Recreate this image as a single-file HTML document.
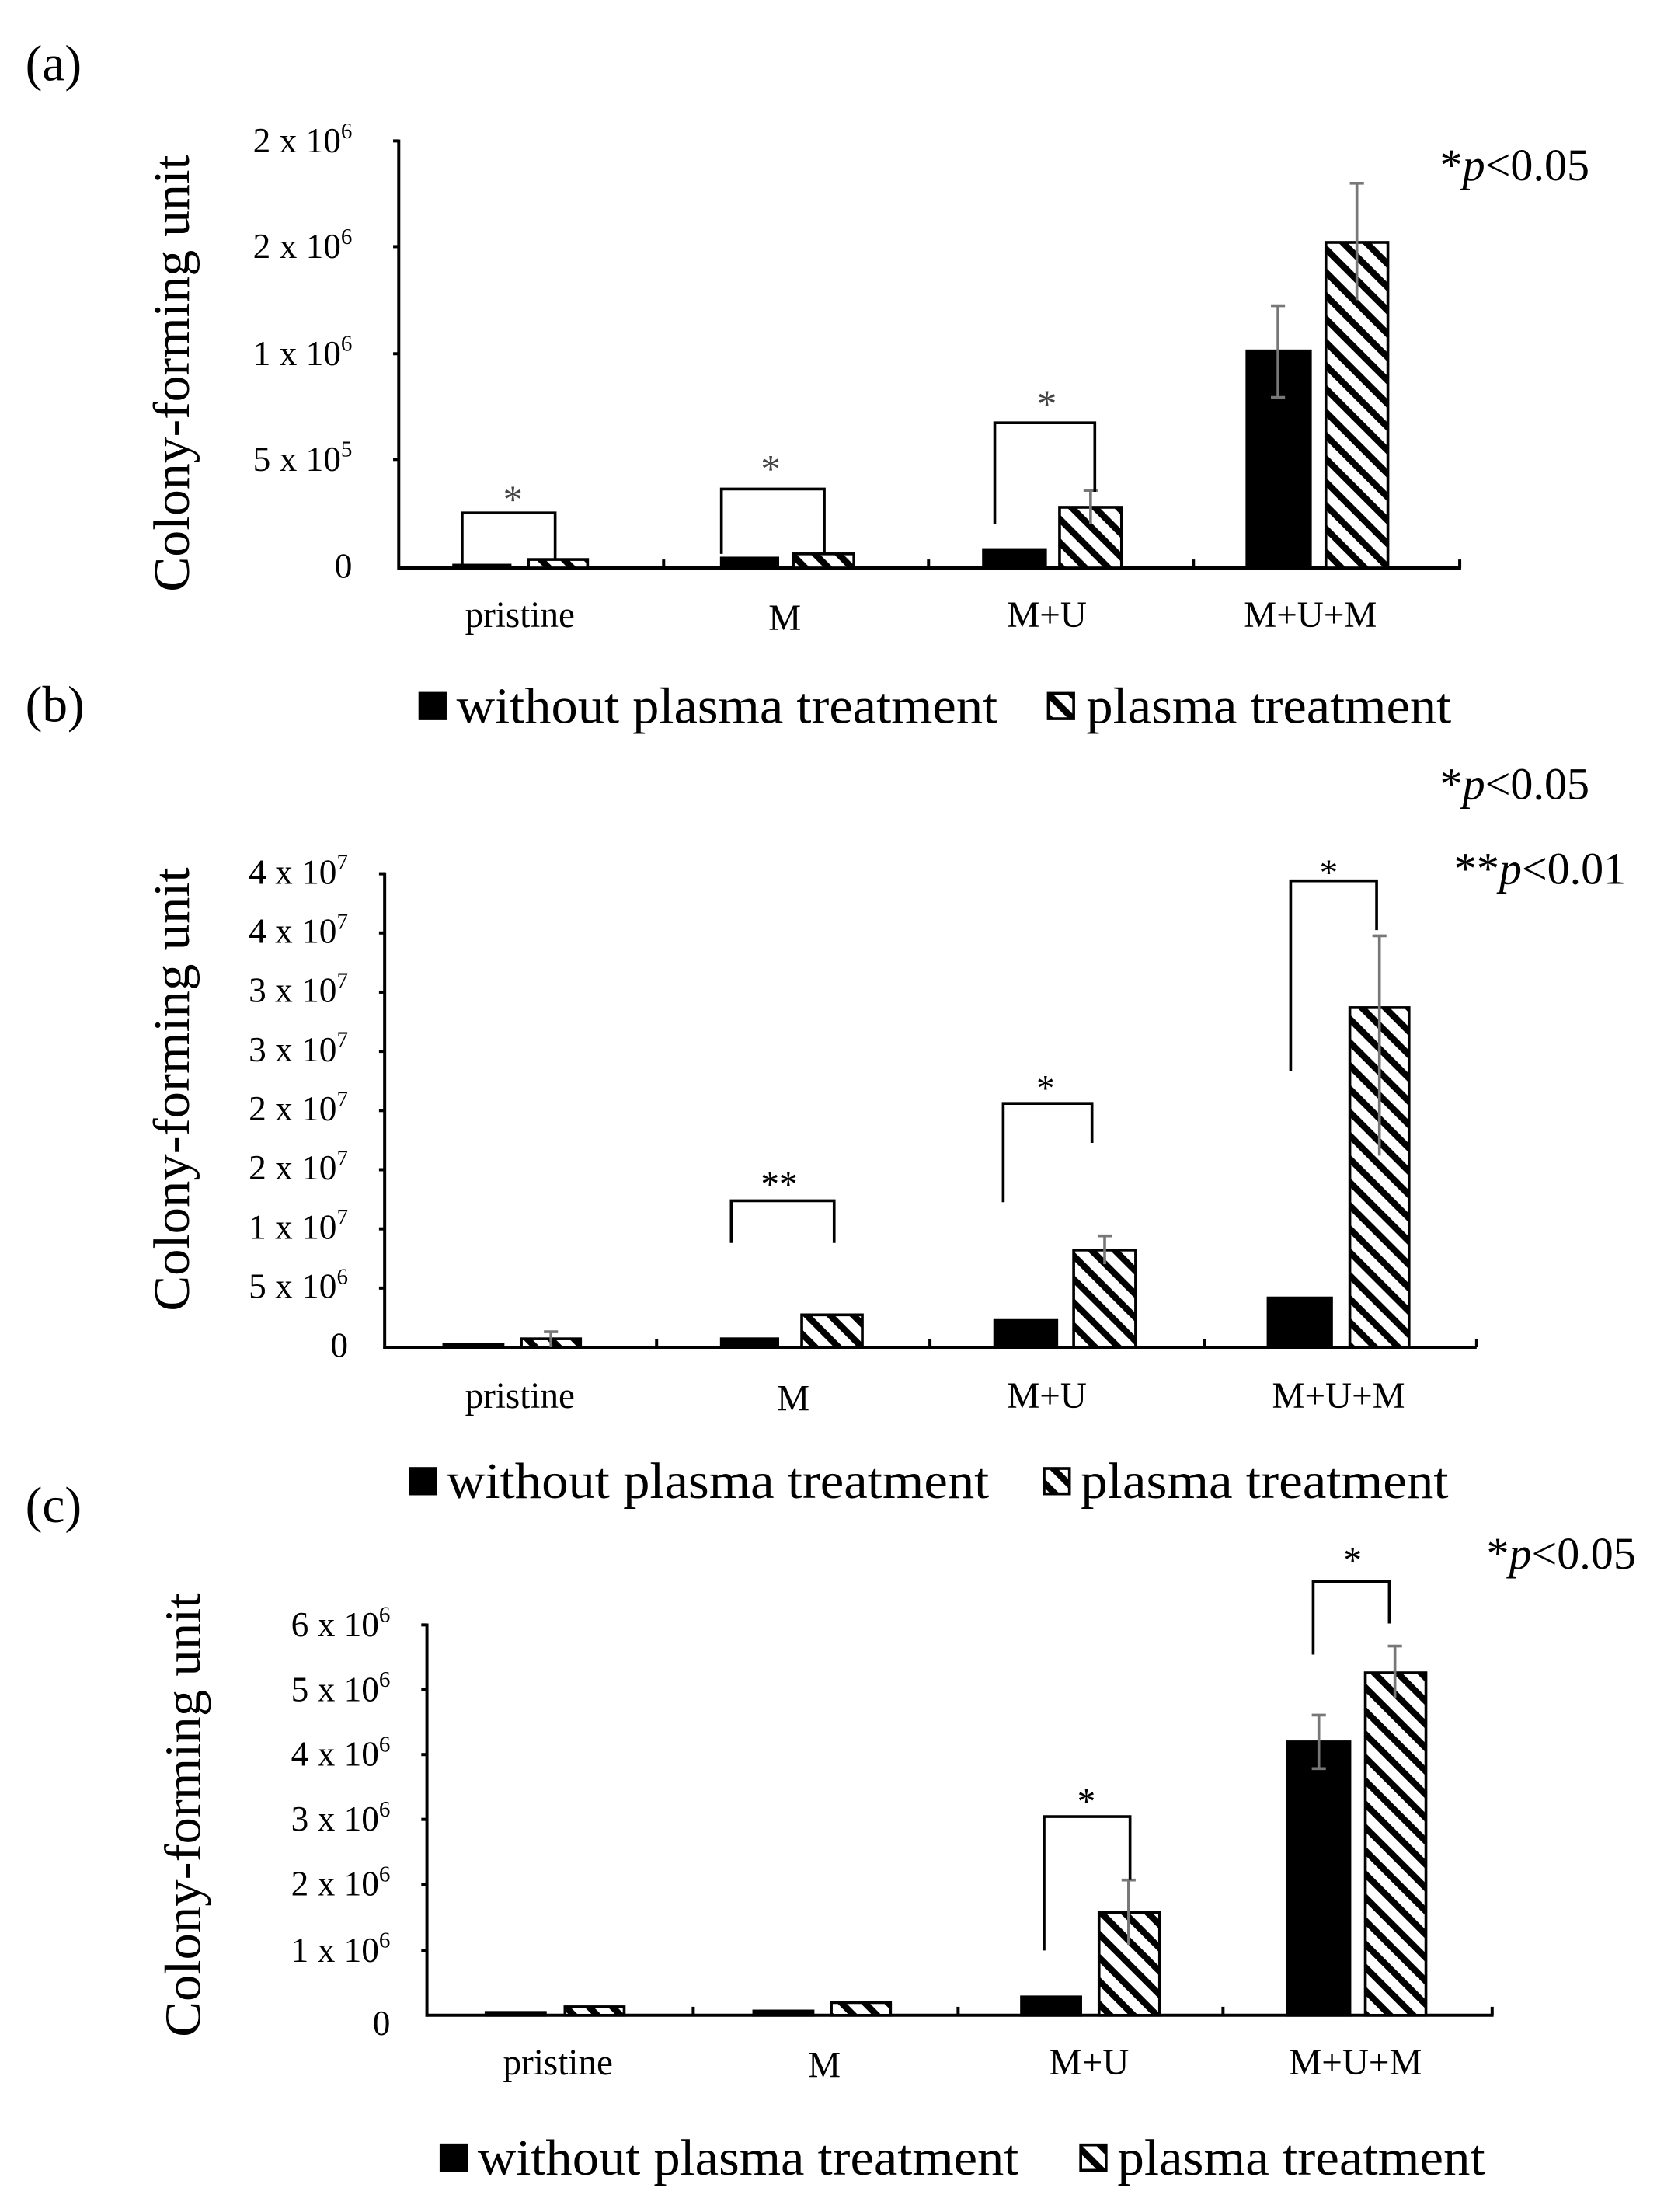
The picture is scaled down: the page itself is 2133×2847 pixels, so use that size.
<!DOCTYPE html>
<html><head><meta charset="utf-8"><style>html,body{margin:0;padding:0;background:#fff}svg{display:block}</style></head><body>
<svg width="2133" height="2847" viewBox="0 0 1176 1569.6" preserveAspectRatio="none" xmlns="http://www.w3.org/2000/svg" font-family="Liberation Serif, serif">
<defs>
<pattern id="h" width="11.7" height="11.7" patternUnits="userSpaceOnUse" patternTransform="rotate(-45)">
<rect x="0" y="0" width="11.7" height="11.7" fill="#fff"/><rect x="0" y="0" width="4.6" height="11.7" fill="#000"/>
</pattern>
</defs>
<rect width="1176" height="1570" fill="#fff"/>
<g font-size="36"><text x="18" y="57">(a)</text><text x="18" y="512">(b)</text><text x="18" y="1080">(c)</text></g>

<!-- Panel A -->
<g>
<text transform="translate(134,265) rotate(-90)" text-anchor="middle" font-size="36" textLength="310" lengthAdjust="spacingAndGlyphs">Colony-forming unit</text>
<g font-size="25" text-anchor="end">
<text x="250" y="410">0</text>
<text x="250" y="334">5 x 10<tspan font-size="16" dy="-10">5</tspan></text>
<text x="250" y="259">1 x 10<tspan font-size="16" dy="-10">6</tspan></text>
<text x="250" y="183">2 x 10<tspan font-size="16" dy="-10">6</tspan></text>
<text x="250" y="108">2 x 10<tspan font-size="16" dy="-10">6</tspan></text>
</g>
<g stroke="#000" stroke-width="2.2">
<line x1="283" y1="99" x2="283" y2="404"/><line x1="282" y1="403" x2="1037" y2="403"/>
<line x1="279" y1="100" x2="283" y2="100"/><line x1="279" y1="175" x2="283" y2="175"/><line x1="279" y1="251" x2="283" y2="251"/><line x1="279" y1="326" x2="283" y2="326"/>
<line x1="471" y1="397" x2="471" y2="403"/><line x1="659" y1="397" x2="659" y2="403"/><line x1="847" y1="397" x2="847" y2="403"/><line x1="1036" y1="397" x2="1036" y2="403"/>
</g>
<g stroke="#000" stroke-width="2">
<rect x="322" y="401" width="40" height="2" fill="#000"/>
<rect x="375" y="397" width="42" height="6" fill="url(#h)"/>
<rect x="512" y="396" width="40" height="7" fill="#000"/>
<rect x="563" y="393" width="43" height="10" fill="url(#h)"/>
<rect x="698" y="390" width="44" height="13" fill="#000"/>
<rect x="752" y="360" width="44" height="43" fill="url(#h)"/>
<rect x="885" y="249" width="45" height="154" fill="#000"/>
<rect x="941" y="172" width="44" height="231" fill="url(#h)"/>
</g>
<g stroke="#777" stroke-width="2">
<line x1="774" y1="348" x2="774" y2="372"/><line x1="769" y1="348" x2="779" y2="348"/>
<line x1="907" y1="217" x2="907" y2="282"/><line x1="902" y1="217" x2="912" y2="217"/><line x1="902" y1="282" x2="912" y2="282"/>
<line x1="963" y1="130" x2="963" y2="213"/><line x1="958" y1="130" x2="968" y2="130"/>
</g>
<g stroke="#000" stroke-width="2" fill="none">
<polyline points="328,401 328,364 394,364 394,397"/>
<polyline points="512,393 512,347 585,347 585,393"/>
<polyline points="706,372 706,300 777,300 777,349"/>
</g>
<g font-size="28" text-anchor="middle" fill="#444"><text x="364" y="364">*</text><text x="547" y="342">*</text><text x="743" y="296">*</text></g>
<text x="1022" y="128" font-size="32">*<tspan font-style="italic">p</tspan>&lt;0.05</text>
<g font-size="26" text-anchor="middle"><text x="369" y="445">pristine</text><text x="557" y="447">M</text><text x="743" y="445">M+U</text><text x="930" y="445">M+U+M</text></g>
<g font-size="36"><rect x="297" y="491" width="20" height="20" fill="#000"/><text x="324" y="513" textLength="384" lengthAdjust="spacingAndGlyphs">without plasma treatment</text>
<rect x="744" y="492" width="18" height="18" fill="url(#h)" stroke="#000" stroke-width="2"/><text x="771" y="513" textLength="259" lengthAdjust="spacingAndGlyphs">plasma treatment</text></g>
</g>

<!-- Panel B -->
<g>
<text transform="translate(134,773) rotate(-90)" text-anchor="middle" font-size="36" textLength="315" lengthAdjust="spacingAndGlyphs">Colony-forming unit</text>
<g font-size="25" text-anchor="end">
<text x="247" y="963">0</text>
<text x="247" y="921">5 x 10<tspan font-size="16" dy="-10">6</tspan></text>
<text x="247" y="879">1 x 10<tspan font-size="16" dy="-10">7</tspan></text>
<text x="247" y="837">2 x 10<tspan font-size="16" dy="-10">7</tspan></text>
<text x="247" y="795">2 x 10<tspan font-size="16" dy="-10">7</tspan></text>
<text x="247" y="753">3 x 10<tspan font-size="16" dy="-10">7</tspan></text>
<text x="247" y="711">3 x 10<tspan font-size="16" dy="-10">7</tspan></text>
<text x="247" y="669">4 x 10<tspan font-size="16" dy="-10">7</tspan></text>
<text x="247" y="627">4 x 10<tspan font-size="16" dy="-10">7</tspan></text>
</g>
<g stroke="#000" stroke-width="2.2">
<line x1="273" y1="619" x2="273" y2="957"/><line x1="272" y1="956" x2="1048" y2="956"/>
<line x1="269" y1="620" x2="273" y2="620"/><line x1="269" y1="662" x2="273" y2="662"/><line x1="269" y1="704" x2="273" y2="704"/><line x1="269" y1="746" x2="273" y2="746"/><line x1="269" y1="788" x2="273" y2="788"/><line x1="269" y1="830" x2="273" y2="830"/><line x1="269" y1="872" x2="273" y2="872"/><line x1="269" y1="914" x2="273" y2="914"/>
<line x1="466" y1="950" x2="466" y2="956"/><line x1="660" y1="950" x2="660" y2="956"/><line x1="855" y1="950" x2="855" y2="956"/><line x1="1048" y1="950" x2="1048" y2="956"/>
</g>
<g stroke="#000" stroke-width="2">
<rect x="315" y="954" width="42" height="2" fill="#000"/>
<rect x="370" y="950" width="42" height="6" fill="url(#h)"/>
<rect x="512" y="950" width="40" height="6" fill="#000"/>
<rect x="569" y="933" width="43" height="23" fill="url(#h)"/>
<rect x="706" y="937" width="44" height="19" fill="#000"/>
<rect x="762" y="887" width="44" height="69" fill="url(#h)"/>
<rect x="900" y="921" width="45" height="35" fill="#000"/>
<rect x="958" y="715" width="42" height="241" fill="url(#h)"/>
</g>
<g stroke="#777" stroke-width="2">
<line x1="391" y1="945" x2="391" y2="956"/><line x1="386" y1="945" x2="396" y2="945"/>
<line x1="784" y1="877" x2="784" y2="897"/><line x1="779" y1="877" x2="789" y2="877"/>
<line x1="979" y1="664" x2="979" y2="820"/><line x1="974" y1="664" x2="984" y2="664"/>
</g>
<g stroke="#000" stroke-width="2" fill="none">
<polyline points="519,882 519,852 592,852 592,882"/>
<polyline points="712,853 712,783 775,783 775,811"/>
<polyline points="916,760 916,625 977,625 977,660"/>
</g>
<g font-size="26" text-anchor="middle"><text x="553" y="849">**</text><text x="742" y="781">*</text><text x="943" y="628">*</text></g>
<text x="1022" y="567" font-size="32">*<tspan font-style="italic">p</tspan>&lt;0.05</text>
<text x="1032" y="627" font-size="32">**<tspan font-style="italic">p</tspan>&lt;0.01</text>
<g font-size="26" text-anchor="middle"><text x="369" y="999">pristine</text><text x="563" y="1001">M</text><text x="743" y="999">M+U</text><text x="950" y="999">M+U+M</text></g>
<g font-size="36"><rect x="290" y="1041" width="20" height="20" fill="#000"/><text x="317" y="1063" textLength="385" lengthAdjust="spacingAndGlyphs">without plasma treatment</text>
<rect x="741" y="1042" width="18" height="18" fill="url(#h)" stroke="#000" stroke-width="2"/><text x="767" y="1063" textLength="261" lengthAdjust="spacingAndGlyphs">plasma treatment</text></g>
</g>

<!-- Panel C -->
<g>
<text transform="translate(142,1288) rotate(-90)" text-anchor="middle" font-size="36" textLength="315" lengthAdjust="spacingAndGlyphs">Colony-forming unit</text>
<g font-size="25" text-anchor="end">
<text x="277" y="1444">0</text>
<text x="277" y="1392">1 x 10<tspan font-size="16" dy="-10">6</tspan></text>
<text x="277" y="1345">2 x 10<tspan font-size="16" dy="-10">6</tspan></text>
<text x="277" y="1299">3 x 10<tspan font-size="16" dy="-10">6</tspan></text>
<text x="277" y="1253">4 x 10<tspan font-size="16" dy="-10">6</tspan></text>
<text x="277" y="1207">5 x 10<tspan font-size="16" dy="-10">6</tspan></text>
<text x="277" y="1161">6 x 10<tspan font-size="16" dy="-10">6</tspan></text>
</g>
<g stroke="#000" stroke-width="2.2">
<line x1="303" y1="1152" x2="303" y2="1431"/><line x1="302" y1="1430" x2="1060" y2="1430"/>
<line x1="299" y1="1153" x2="303" y2="1153"/><line x1="299" y1="1199" x2="303" y2="1199"/><line x1="299" y1="1245" x2="303" y2="1245"/><line x1="299" y1="1291" x2="303" y2="1291"/><line x1="299" y1="1337" x2="303" y2="1337"/><line x1="299" y1="1384" x2="303" y2="1384"/>
<line x1="492" y1="1424" x2="492" y2="1430"/><line x1="680" y1="1424" x2="680" y2="1430"/><line x1="868" y1="1424" x2="868" y2="1430"/><line x1="1059" y1="1424" x2="1059" y2="1430"/>
</g>
<g stroke="#000" stroke-width="2">
<rect x="345" y="1428" width="42" height="2" fill="#000"/>
<rect x="401" y="1424" width="42" height="6" fill="url(#h)"/>
<rect x="535" y="1427" width="42" height="3" fill="#000"/>
<rect x="590" y="1421" width="42" height="9" fill="url(#h)"/>
<rect x="725" y="1417" width="42" height="13" fill="#000"/>
<rect x="780" y="1357" width="43" height="73" fill="url(#h)"/>
<rect x="914" y="1236" width="44" height="194" fill="#000"/>
<rect x="969" y="1187" width="43" height="243" fill="url(#h)"/>
</g>
<g stroke="#777" stroke-width="2">
<line x1="801" y1="1334" x2="801" y2="1380"/><line x1="796" y1="1334" x2="806" y2="1334"/>
<line x1="936" y1="1217" x2="936" y2="1255"/><line x1="931" y1="1217" x2="941" y2="1217"/><line x1="931" y1="1255" x2="941" y2="1255"/>
<line x1="990" y1="1168" x2="990" y2="1205"/><line x1="985" y1="1168" x2="995" y2="1168"/>
</g>
<g stroke="#000" stroke-width="2" fill="none">
<polyline points="741,1384 741,1289 802,1289 802,1334"/>
<polyline points="932,1174 932,1122 986,1122 986,1152"/>
</g>
<g font-size="26" text-anchor="middle"><text x="771" y="1287">*</text><text x="960" y="1116">*</text></g>
<text x="1055" y="1113" font-size="32">*<tspan font-style="italic">p</tspan>&lt;0.05</text>
<g font-size="26" text-anchor="middle"><text x="396" y="1472">pristine</text><text x="585" y="1474">M</text><text x="773" y="1472">M+U</text><text x="962" y="1472">M+U+M</text></g>
<g font-size="36"><rect x="312" y="1521" width="20" height="20" fill="#000"/><text x="339" y="1543" textLength="384" lengthAdjust="spacingAndGlyphs">without plasma treatment</text>
<rect x="767" y="1522" width="18" height="18" fill="url(#h)" stroke="#000" stroke-width="2"/><text x="793" y="1543" textLength="261" lengthAdjust="spacingAndGlyphs">plasma treatment</text></g>
</g>
</svg>
</body></html>
